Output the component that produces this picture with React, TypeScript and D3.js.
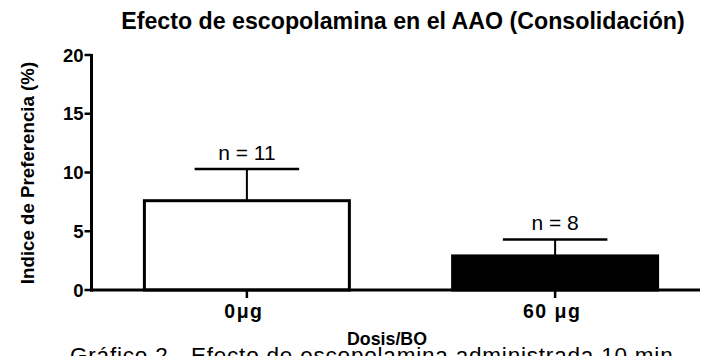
import React from "react";
import * as d3 from "d3";

// Dose groups and their preference-index statistics
const categories = ["0μg", "60 μg"];
const means = [7.6, 2.9];
const errors = [2.7, 1.4];
const groupSizes = [11, 8];
const barFills = ["#ffffff", "#000000"];
const yTicks = [0, 5, 10, 15, 20];

const chartTitle = "Efecto de escopolamina en el AAO (Consolidación)";
const yLabel = "Indice de Preferencia (%)";
const xLabel = "Dosis/BO";
const caption = "Gráfico 2.- Efecto de escopolamina administrada 10 min";

const W = 703;
const H = 356;
const FONT = "'Liberation Sans', Arial, Helvetica, sans-serif";

export default function App() {
  const y = d3.scaleLinear().domain([0, 20]).range([290, 55]);
  const x = d3
    .scaleBand<string>()
    .domain(categories)
    .range([92, 710])
    .paddingInner(0.335)
    .paddingOuter(0.17);

  const axisLeft = 91.5;
  const axisRight = 700;
  const bw = x.bandwidth();
  const capW = bw * 0.51;

  return (
    <svg
      width={W}
      height={H}
      viewBox={`0 0 ${W} ${H}`}
      style={{ position: "fixed", left: 0, top: 0, background: "#fff" }}
      fontFamily={FONT}
    >
      <rect x={0} y={0} width={W} height={H} fill="#fff" />

      {/* title */}
      <text x={403} y={29} textAnchor="middle" fontSize={23.2} fontWeight="bold" fill="#000">
        {chartTitle}
      </text>

      {/* bars with error bars */}
      {categories.map((c, i) => {
        const x0 = x(c)!;
        const cx = x0 + bw / 2;
        const top = y(means[i]);
        const errTop = y(means[i] + errors[i]);
        return (
          <g key={c}>
            <line x1={cx} x2={cx} y1={top} y2={errTop} stroke="#000" strokeWidth={2} />
            <line x1={cx - capW / 2} x2={cx + capW / 2} y1={errTop} y2={errTop} stroke="#000" strokeWidth={2.5} />
            <rect
              x={x0}
              y={top}
              width={bw}
              height={y(0) - top}
              fill={barFills[i]}
              stroke="#000"
              strokeWidth={3}
            />
            <text x={cx} y={errTop - 9} textAnchor="middle" fontSize={21} fill="#000">
              {`n = ${groupSizes[i]}`}
            </text>
          </g>
        );
      })}

      {/* y axis */}
      <line x1={axisLeft} x2={axisLeft} y1={y(20) - 1} y2={y(0) + 1.5} stroke="#000" strokeWidth={3} />
      {yTicks.map((t) => (
        <g key={t}>
          <line x1={axisLeft - 7} x2={axisLeft} y1={y(t)} y2={y(t)} stroke="#000" strokeWidth={2.5} />
          <text
            x={axisLeft - 8}
            y={y(t)}
            dy="0.36em"
            textAnchor="end"
            fontSize={18.5}
            fontWeight="bold"
            fill="#000"
          >
            {t}
          </text>
        </g>
      ))}

      {/* x axis */}
      <line x1={axisLeft - 1.5} x2={axisRight} y1={y(0)} y2={y(0)} stroke="#000" strokeWidth={3} />
      {categories.map((c) => {
        const cx = x(c)! + bw / 2;
        return (
          <g key={c}>
            <line x1={cx} x2={cx} y1={y(0)} y2={y(0) + 8} stroke="#000" strokeWidth={2.5} />
            <text
              x={cx - 3}
              y={318}
              textAnchor="middle"
              fontSize={19.5}
              fontWeight="bold"
              letterSpacing={1.5}
              fill="#000"
            >
              {c}
            </text>
          </g>
        );
      })}

      {/* axis titles */}
      <text
        transform={`translate(34,173) rotate(-90)`}
        textAnchor="middle"
        fontSize={18.7}
        fontWeight="bold"
        fill="#000"
      >
        {yLabel}
      </text>
      <text x={387} y={345} textAnchor="middle" fontSize={17.8} fontWeight="bold" fill="#000">
        {xLabel}
      </text>

      {/* figure caption, running off the bottom edge */}
      <text x={70} y={363} fontSize={22.5} fill="#000" letterSpacing={0.8}>
        {caption}
      </text>
    </svg>
  );
}
